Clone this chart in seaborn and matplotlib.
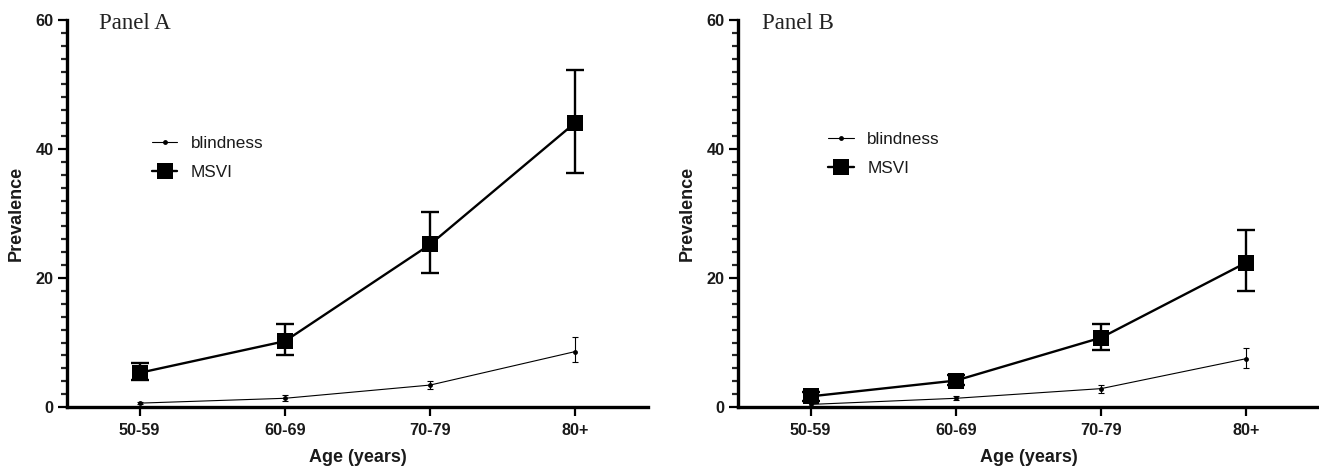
import matplotlib
matplotlib.use("Agg")
import matplotlib.pyplot as plt
from matplotlib.ticker import MultipleLocator
import seaborn as sns
import pandas as pd

age_groups = ["50-59", "60-69", "70-79", "80+"]

# Panel A
a_blind = [0.6, 1.35, 3.4, 8.6]
a_blind_lo = [0.4, 0.9, 2.8, 6.9]
a_blind_hi = [0.8, 1.9, 4.0, 10.9]
a_msvi = [5.3, 10.2, 25.2, 44.1]
a_msvi_lo = [4.2, 8.0, 20.8, 36.3]
a_msvi_hi = [6.8, 12.8, 30.2, 52.3]

# Panel B
b_blind = [0.4, 1.35, 2.85, 7.5]
b_blind_lo = [0.2, 1.05, 2.2, 6.1]
b_blind_hi = [0.6, 1.7, 3.4, 9.2]
b_msvi = [1.65, 4.1, 10.75, 22.4]
b_msvi_lo = [1.0, 3.4, 8.9, 18.0]
b_msvi_hi = [2.4, 5.0, 12.9, 27.5]

panel_titles = ["Panel A", "Panel B"]
series_names = ["blindness", "MSVI"]

sns.set_theme(style="ticks")
plt.rcParams["font.family"] = ["Liberation Sans", "DejaVu Sans"]

fig = plt.figure(figsize=(13.19, 4.69), dpi=100)
ax_a = fig.add_axes([67 / 1319, 1 - 407 / 469, (648 - 67) / 1319, 387 / 469])
ax_b = fig.add_axes([738 / 1319, 1 - 407 / 469, (1319 - 738) / 1319, 387 / 469])

panels = [
    (ax_a, a_blind, a_blind_lo, a_blind_hi, a_msvi, a_msvi_lo, a_msvi_hi, (0.146, 0.643), 0.055),
    (ax_b, b_blind, b_blind_lo, b_blind_hi, b_msvi, b_msvi_lo, b_msvi_hi, (0.155, 0.654), 0.041),
]

for i, (ax, bl, bl_lo, bl_hi, ms, ms_lo, ms_hi, leg_pos, tx) in enumerate(panels):
    xpos = list(range(len(age_groups)))
    df_b = pd.DataFrame({"x": xpos, "val": bl})
    df_m = pd.DataFrame({"x": xpos, "val": ms})

    # error bars
    ax.errorbar(xpos, bl,
                yerr=[[v - l for v, l in zip(bl, bl_lo)], [h - v for v, h in zip(bl, bl_hi)]],
                fmt="none", ecolor="black", elinewidth=0.8, capsize=2, capthick=0.8, zorder=2)
    ax.errorbar(xpos, ms,
                yerr=[[v - l for v, l in zip(ms, ms_lo)], [h - v for v, h in zip(ms, ms_hi)]],
                fmt="none", ecolor="black", elinewidth=1.7, capsize=6.5, capthick=1.7, zorder=3)

    sns.lineplot(data=df_b, x="x", y="val", ax=ax, color="black", linewidth=0.8,
                 marker="o", markersize=3.5, markeredgewidth=0, label=series_names[0], zorder=4)
    sns.lineplot(data=df_m, x="x", y="val", ax=ax, color="black", linewidth=1.7,
                 marker="s", markersize=11.5, markeredgewidth=0, label=series_names[1], zorder=5,
                 clip_on=False)

    ax.set_xlim(-0.5, 3.5)
    ax.set_ylim(0, 60)
    ax.set_xticks(xpos)
    ax.set_xticklabels(age_groups)
    ax.yaxis.set_major_locator(MultipleLocator(20))
    ax.yaxis.set_minor_locator(MultipleLocator(2))
    ax.tick_params(axis="both", which="major", direction="out", length=6.5, width=1.6,
                   labelsize=11.7, colors="black")
    ax.tick_params(axis="x", which="major", pad=5)
    ax.tick_params(axis="y", which="major", pad=3)
    ax.tick_params(axis="y", which="minor", direction="out", length=4, width=1.6)
    for lab in ax.get_xticklabels() + ax.get_yticklabels():
        lab.set_fontweight("bold")
        lab.set_color("#1a1a1a")
    for s in ["top", "right"]:
        ax.spines[s].set_visible(False)
    for s in ["left", "bottom"]:
        ax.spines[s].set_linewidth(2.4)
        ax.spines[s].set_color("black")
    ax.set_xlabel("Age (years)", fontsize=13, fontweight="bold", color="#1a1a1a", labelpad=8)
    ax.set_ylabel("Prevalence", fontsize=13, fontweight="bold", color="#1a1a1a", labelpad=8)
    ax.grid(False)

    leg = ax.legend(loc="center left", bbox_to_anchor=leg_pos, frameon=False, fontsize=12.3,
                    handlelength=1.5, handletextpad=0.8, labelspacing=0.8,
                    borderpad=0, borderaxespad=0)
    for t in leg.get_texts():
        t.set_color("#1a1a1a")

    ax.text(tx, 0.99, panel_titles[i], transform=ax.transAxes, ha="left", va="center",
            fontsize=16.5, family=["Liberation Serif", "DejaVu Serif"], color="#222222")

fig.savefig("out.png", dpi=100)
